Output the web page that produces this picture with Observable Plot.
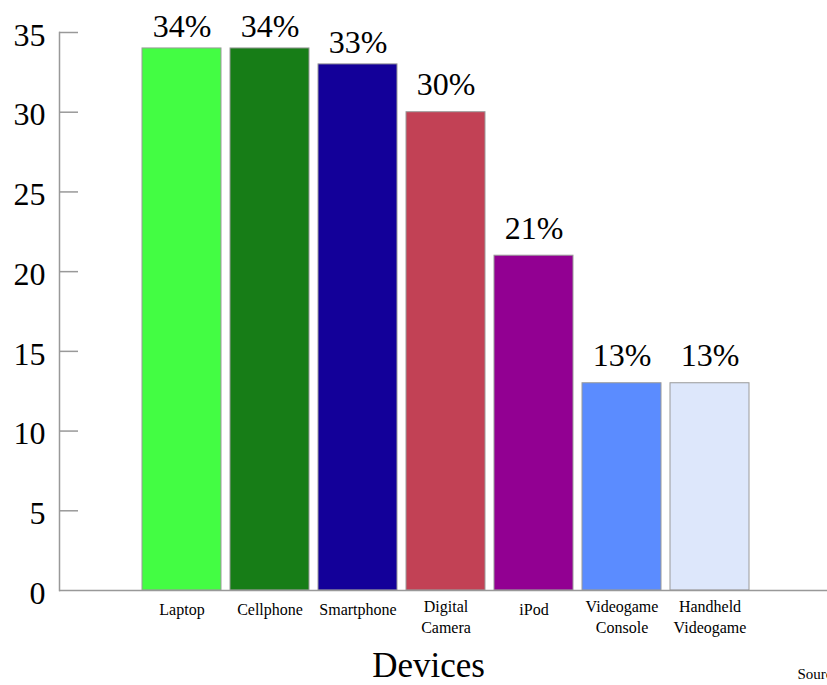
<!DOCTYPE html>
<html>
<head>
<meta charset="utf-8">
<script src="https://cdn.jsdelivr.net/npm/d3@7"></script>
<script src="https://cdn.jsdelivr.net/npm/@observablehq/plot@0.6"></script>
<style>
  html, body { margin: 0; padding: 0; background: #fff; overflow: hidden; }
</style>
</head>
<body>
<div id="chart"></div>
<script>
const devices = ["Laptop", "Cellphone", "Smartphone", "Digital Camera", "iPod", "Videogame Console", "Handheld Videogame"];
const tickLabels = ["Laptop", "Cellphone", "Smartphone", "Digital\nCamera", "iPod", "Videogame\nConsole", "Handheld\nVideogame"];
const values = [34, 34, 33, 30, 21, 13, 13];
const colors = ["#43fd43", "#177d17", "#130099", "#c24155", "#920092", "#5b8cff", "#dde7fb"];
const yTicks = [0, 5, 10, 15, 20, 25, 30, 35];
const xTitle = "Devices";
const sourceText = "Source";

const data = devices.map((d, i) => ({device: d, value: values[i], color: colors[i], label: tickLabels[i]}));
const single = data.filter(d => !d.label.includes("\n"));
const multi = data.filter(d => d.label.includes("\n"));
const tall = data.filter(d => d.value >= 33);
const rest = data.filter(d => d.value < 33);

const font = "Liberation Serif, Times New Roman, serif";
const W = 827, H = 685;
const mL = 59, mR = 0, mT = 32, mB = 95;

const chart = Plot.plot({
  width: W,
  height: H,
  marginLeft: mL,
  marginRight: mR,
  marginTop: mT,
  marginBottom: mB,
  style: {fontFamily: font, background: "#fff", color: "#000"},
  x: {domain: devices, paddingInner: 0.105, paddingOuter: 0.9, align: 0.516, axis: null},
  y: {domain: [0, 35], axis: null},
  marks: [
    Plot.barY(data, {x: "device", y: "value", fill: "color", stroke: "#9a9a9a", strokeWidth: 1}),
    Plot.ruleY([0], {stroke: "#999", strokeWidth: 1.5}),
    Plot.frame({anchor: "left", stroke: "#999", strokeWidth: 1.5}),
    Plot.ruleY(yTicks.filter(t => t > 0), {y: d => d, stroke: "#999", strokeWidth: 1.5, insetRight: (W - mL - mR) - 19}),
    Plot.text(yTicks, {y: d => d, text: d => String(d), frameAnchor: "left", textAnchor: "end", dx: -14, dy: 3, fontSize: 32, fontFamily: font, fill: "#000"}),
    Plot.text(tall, {x: "device", y: "value", text: d => d.value + "%", lineAnchor: "bottom", dy: -11, fontSize: 32, fontFamily: font, fill: "#000"}),
    Plot.text(rest, {x: "device", y: "value", text: d => d.value + "%", lineAnchor: "bottom", dy: -17, fontSize: 32, fontFamily: font, fill: "#000"}),
    Plot.text(single, {x: "device", text: "label", frameAnchor: "bottom", lineAnchor: "middle", dy: 19, fontSize: 16, fontFamily: font, fill: "#000"}),
    Plot.text(multi, {x: "device", text: "label", frameAnchor: "bottom", lineAnchor: "middle", dy: 25, fontSize: 16, lineHeight: 1.3, fontFamily: font, fill: "#000"}),
    Plot.text([xTitle], {frameAnchor: "bottom", text: d => d, lineAnchor: "bottom", dx: -15, dy: 86, fontSize: 35, fontFamily: font, fill: "#000"}),
    Plot.text([sourceText], {frameAnchor: "bottom-right", text: d => d, textAnchor: "start", lineAnchor: "bottom", dx: -30, dy: 88, fontSize: 15, fontFamily: font, fill: "#000"})
  ]
});
document.getElementById("chart").appendChild(chart);
</script>
</body>
</html>
